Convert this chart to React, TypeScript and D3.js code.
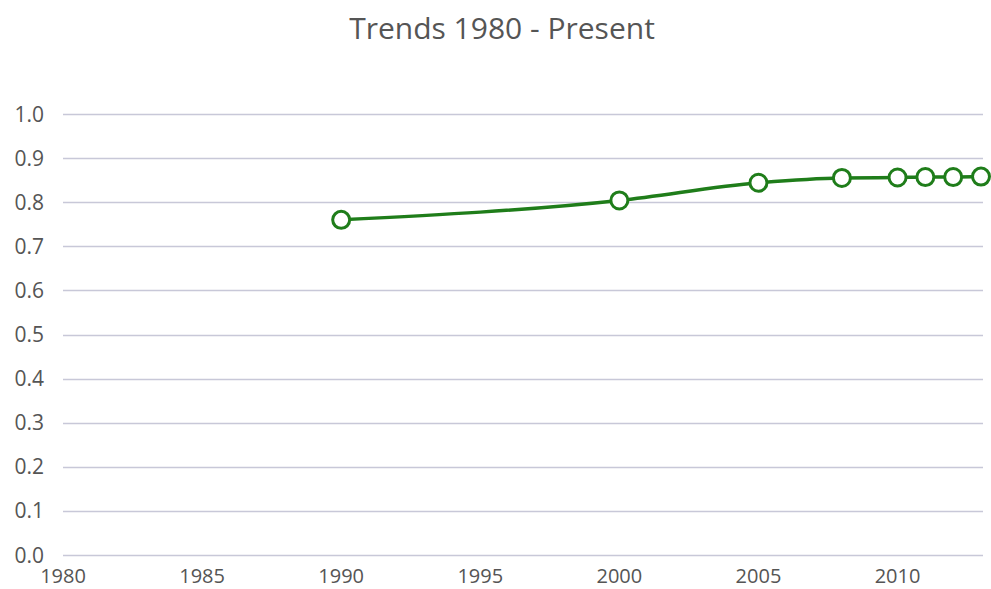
import { useEffect, useRef } from 'react'
import * as d3 from 'd3'

const years = [1990, 2000, 2005, 2008, 2010, 2011, 2012, 2013]
const values = [0.76, 0.804, 0.844, 0.855, 0.856, 0.857, 0.857, 0.858]
const yTicks = [0, 0.1, 0.2, 0.3, 0.4, 0.5, 0.6, 0.7, 0.8, 0.9, 1.0]
const xTicks = [1980, 1985, 1990, 1995, 2000, 2005, 2010]
const title = 'Trends 1980 - Present'

export default function App() {
  const svgRef = useRef<SVGSVGElement>(null)

  useEffect(() => {
    if (!svgRef.current) return
    const svg = d3.select(svgRef.current)
    svg.selectAll('*').remove()

    const width = 991
    const height = 589
    const font = '"Open Sans", "Noto Sans", sans-serif'
    const green = '#1f7d1a'

    svg.attr('width', width).attr('height', height)

    const x = d3.scaleLinear().domain([1980, 2013]).range([63, 981])
    const y = d3.scaleLinear().domain([0, 1]).range([555, 114])

    // title
    svg.append('text')
      .attr('x', 502)
      .attr('y', 39)
      .attr('text-anchor', 'middle')
      .style('font-family', font)
      .style('font-size', '30px')
      .style('fill', '#555')
      .text(title)

    // grid lines
    svg.append('g')
      .selectAll('line')
      .data(yTicks)
      .enter()
      .append('line')
      .attr('x1', 63)
      .attr('x2', 983)
      .attr('y1', d => Math.round(y(d)) + 0.5)
      .attr('y2', d => Math.round(y(d)) + 0.5)
      .attr('stroke', '#c8c8d8')
      .attr('stroke-width', 1.5)

    // y labels
    svg.append('g')
      .selectAll('text')
      .data(yTicks)
      .enter()
      .append('text')
      .attr('x', 44)
      .attr('y', d => y(d))
      .attr('dy', '0.36em')
      .attr('text-anchor', 'end')
      .style('font-family', font)
      .style('font-size', '21px')
      .style('fill', '#555')
      .text(d => d.toFixed(1))

    // x labels
    svg.append('g')
      .selectAll('text')
      .data(xTicks)
      .enter()
      .append('text')
      .attr('x', d => x(d))
      .attr('y', 583)
      .attr('text-anchor', 'middle')
      .style('font-family', font)
      .style('font-size', '20px')
      .style('fill', '#555')
      .text(d => d)

    const pts = years.map((yr, i) => ({ yr, v: values[i] }))

    const line = d3.line<{ yr: number; v: number }>()
      .x(d => x(d.yr))
      .y(d => y(d.v))
      .curve(d3.curveMonotoneX)

    svg.append('path')
      .datum(pts)
      .attr('d', line)
      .attr('fill', 'none')
      .attr('stroke', green)
      .attr('stroke-width', 3.5)

    svg.append('g')
      .selectAll('circle')
      .data(pts)
      .enter()
      .append('circle')
      .attr('cx', d => x(d.yr))
      .attr('cy', d => y(d.v))
      .attr('r', 8.5)
      .attr('fill', '#fff')
      .attr('stroke', green)
      .attr('stroke-width', 3)
  }, [])

  return (
    <div style={{ position: 'absolute', left: 0, top: 0 }}>
      <svg ref={svgRef} style={{ display: 'block' }}></svg>
    </div>
  )
}
